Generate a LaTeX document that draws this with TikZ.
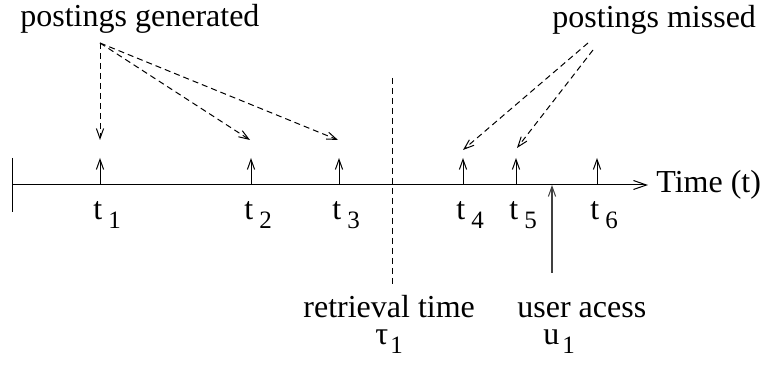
\documentclass[tikz,border=0pt]{standalone}
\usepackage{fontspec}
\setmainfont{Liberation Serif}
\usetikzlibrary{arrows.meta}
\newcommand{\tsb}[3][3pt]{#2\hspace{#1}\raisebox{-4.2pt}{\fontsize{12.5}{12.5}\selectfont #3}}
\tikzset{
  lbl/.style={anchor=base west, inner sep=0pt, font=\fontsize{16}{19}\selectfont},
  twoline/.style={lbl, font=\fontsize{16}{13.75}\selectfont},
  tick/.style={line width=0.5pt, -{Straight Barb[length=5pt,width=3.6pt,line width=0.5pt]}},
  pointer/.style={line width=0.5pt, dash pattern=on 3pt off 2pt, -{Straight Barb[length=5pt,width=3.6pt,line width=0.5pt]}},
}
\begin{document}
\begin{tikzpicture}[x=0.5pt,y=-0.5pt]
\useasboundingbox (0,0) rectangle (765,367);
% axis
\coordinate (a0) at (12,185);
\coordinate (a1) at (648,185);
\draw[line width=0.5pt, -{Straight Barb[length=6.5pt,width=4.5pt,line width=0.5pt]}] (a0) -- (a1);
\coordinate (b0) at (12,158);
\coordinate (b1) at (12,212);
\draw[line width=0.5pt] (b0) -- (b1);
% posting ticks
\foreach \n/\x in {1/100,2/251,3/339,4/463,5/516,6/597}{
  \coordinate (p\n) at (\x,185);
  \coordinate (q\n) at (\x,158);
  \draw[tick] (p\n) -- (q\n);
  \node[lbl] (t\n) at (\x-7,220) {\tsb{t}{\n}};
}
% retrieval time
\coordinate (r0) at (392,78);
\coordinate (r1) at (392,284);
\draw[line width=0.5pt, dash pattern=on 3pt off 2pt] (r0) -- (r1);
\node[twoline, align=center] (rt) at (303,345) {retrieval time\\\tsb[1pt]{τ}{1}};
% user access
\coordinate (u0) at (552,273);
\coordinate (u1) at (552,185);
\draw[line width=0.6pt, black!75, -{Straight Barb[length=5pt,width=3.6pt,line width=0.5pt]}] (u0) -- (u1);
\node[twoline, align=left] (ua) at (517,345) {user acess\\\hspace*{13pt}\tsb[1.5pt]{u}{1}};
% time label
\node[lbl] (time) at (656,193) {Time (t)};
% postings generated
\node[lbl] (pg) at (20,27) {postings generated};
\coordinate (g0) at (100,43);
\coordinate (g1) at (100,140);
\coordinate (g2) at (250,140);
\coordinate (g3) at (338,140);
\draw[pointer] (g0) -- (g1);
\draw[pointer] (g0) -- (g2);
\draw[pointer] (g0) -- (g3);
% postings missed
\node[lbl] (pm) at (552,28) {postings missed};
\coordinate (m0) at (588,43);
\coordinate (m1) at (593,50);
\coordinate (m2) at (463,150);
\coordinate (m3) at (517,148);
\draw[pointer] (m0) -- (m2);
\draw[pointer] (m1) -- (m3);
\end{tikzpicture}
\end{document}
